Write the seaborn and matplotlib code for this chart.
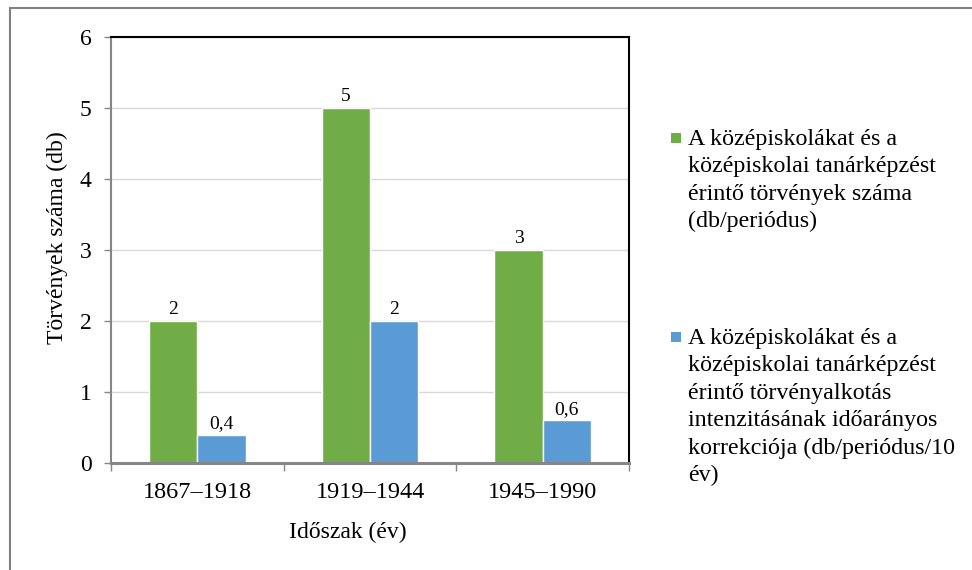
import matplotlib
matplotlib.use("Agg")
import matplotlib.pyplot as plt
import seaborn as sns
import pandas as pd
from matplotlib.patches import Rectangle

# Adatok
periods = ["1867–1918", "1919–1944", "1945–1990"]
laws_count = [2, 5, 3]
laws_rate = [0.4, 2, 0.6]
series_names = [
    "A középiskolákat és a\nközépiskolai tanárképzést\nérintő törvények száma\n(db/periódus)",
    "A középiskolákat és a\nközépiskolai tanárképzést\nérintő törvényalkotás\nintenzitásának időarányos\nkorrekciója (db/periódus/10\név)",
]
colors = ["#70AD47", "#5B9BD5"]

df = pd.DataFrame({
    "Időszak": periods * 2,
    "Érték": laws_count + laws_rate,
    "Sorozat": [series_names[0]] * 3 + [series_names[1]] * 3,
})

sns.set_theme(style="white")
plt.rcParams['font.family'] = ['Liberation Serif', 'DejaVu Serif']
plt.rcParams.update({'text.color': 'black', 'axes.labelcolor': 'black',
                     'xtick.color': 'black', 'ytick.color': 'black'})

fig = plt.figure(figsize=(9.72, 5.7), dpi=100)
ax = fig.add_axes([111 / 972, 1 - 463 / 570, 518 / 972, 426 / 570])

sns.barplot(data=df, x="Időszak", y="Érték", hue="Sorozat", palette=colors,
            saturation=1, width=0.56, errorbar=None, edgecolor="white",
            linewidth=1, legend=False, ax=ax)

ax.set_ylim(0, 6)
ax.set_yticks(range(7))
ax.set_xlim(-0.5, 2.5)
ax.yaxis.grid(True, color="#D9D9D9", lw=1)
ax.set_axisbelow(True)

gray = "#868686"
ax.spines["top"].set_color("black")
ax.spines["right"].set_color("black")
ax.spines["top"].set_linewidth(1.5)
ax.spines["right"].set_linewidth(1.5)
ax.spines["left"].set_color(gray)
ax.spines["left"].set_linewidth(1.5)
ax.spines["bottom"].set_color(gray)
ax.spines["bottom"].set_linewidth(2.2)

ax.tick_params(axis="y", left=True, length=5, width=1, color=gray, pad=9, labelsize=17)
ax.tick_params(axis="x", which="major", bottom=False, length=0, pad=14, labelsize=17.5)
ax.set_xticks([-0.5, 0.5, 1.5, 2.5], minor=True)
ax.tick_params(axis="x", which="minor", bottom=True, length=6, width=1, color=gray)

ax.set_ylabel("Törvények száma (db)", fontsize=17, va="center")
ax.yaxis.set_label_coords((57 - 111) / 518, (463 - 238) / 426)
ax.set_xlabel("Időszak (év)", fontsize=17, va="center")
ax.xaxis.set_label_coords((348 - 111) / 518, (463 - 532) / 426)

for cont in ax.containers:
    ax.bar_label(cont, labels=[f"{v:g}".replace(".", ",") for v in cont.datavalues],
                 padding=2, fontsize=14)

# Jelmagyarázat
legend_tops = [129, 328]
for name, col, top in zip(series_names, colors, legend_tops):
    fig.patches.append(Rectangle((671 / 972, 1 - (top + 14) / 570), 10 / 972, 10 / 570,
                                 transform=fig.transFigure, facecolor=col, edgecolor="none"))
    fig.text(688 / 972, 1 - top / 570, name, fontsize=17.3, va="top", ha="left",
             linespacing=1.4)

# Külső keret
fig.patches.append(Rectangle((10 / 972, -0.5), 2, 0.5 + 1 - 8 / 570,
                             transform=fig.transFigure, fill=False,
                             edgecolor="#808080", lw=1.5))

fig.savefig("out.png", dpi=100)
